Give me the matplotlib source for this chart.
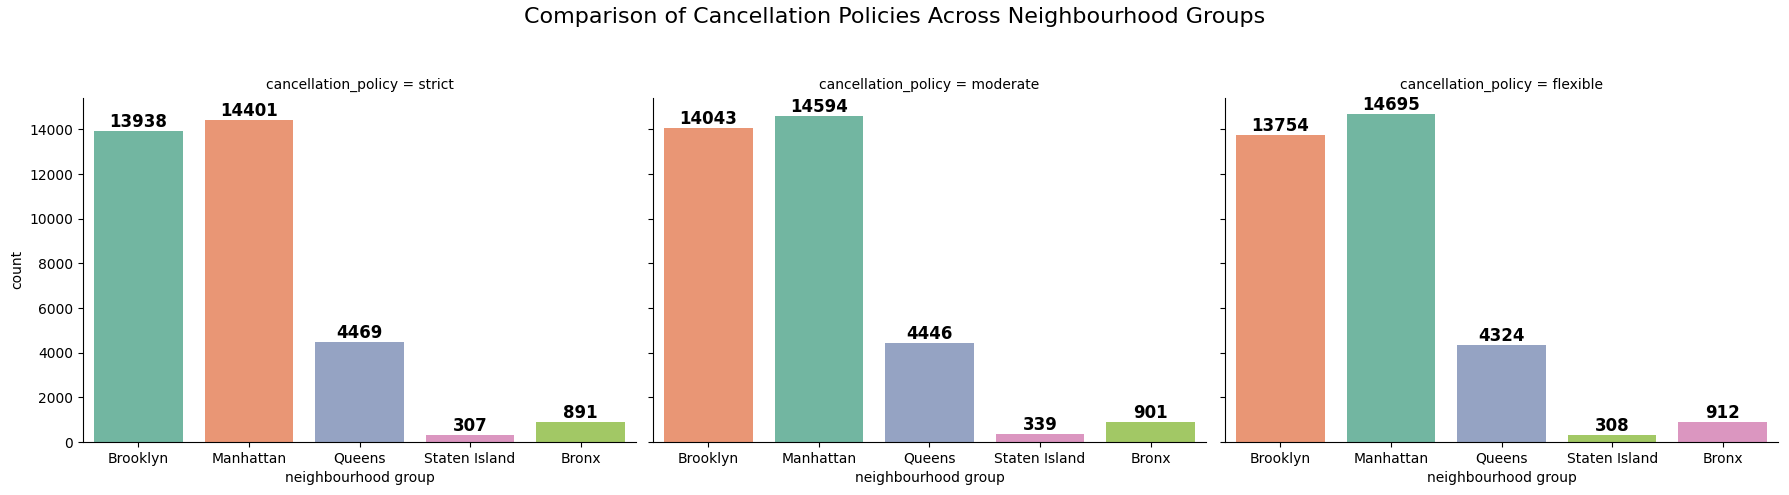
import matplotlib
matplotlib.use("Agg")
import matplotlib.pyplot as plt
import seaborn as sns

policies = ["strict", "moderate", "flexible"]
groups = ["Brooklyn", "Manhattan", "Queens", "Staten Island", "Bronx"]
counts_strict = [13938, 14401, 4469, 307, 891]
counts_moderate = [14043, 14594, 4446, 339, 901]
counts_flexible = [13754, 14695, 4324, 308, 912]
all_counts = [counts_strict, counts_moderate, counts_flexible]

set2 = sns.color_palette("Set2")
# colour index per bar in each facet (order of appearance in the source)
color_idx = [
    [0, 1, 2, 3, 4],
    [1, 0, 2, 3, 4],
    [1, 0, 2, 4, 3],
]

fig = plt.figure(figsize=(17.9, 4.95), dpi=100)
lefts = [0.0464, 0.3648, 0.6844]
width = 0.3089
bottom, top = 0.107, 0.803
axes = []
for i, (pol, counts) in enumerate(zip(policies, all_counts)):
    ax = fig.add_axes([lefts[i], bottom, width, top - bottom],
                      sharey=axes[0] if axes else None)
    axes.append(ax)
    cols = [sns.desaturate(set2[k], 0.75) for k in color_idx[i]]
    bars = ax.bar(range(len(groups)), counts, width=0.8, color=cols)
    ax.bar_label(bars, labels=[str(c) for c in counts], fontsize=12,
                 fontweight="bold", padding=0)
    ax.set_xticks(range(len(groups)))
    ax.set_xticklabels(groups, fontsize=10)
    ax.set_xlim(-0.5, len(groups) - 0.5)
    ax.set_xlabel("neighbourhood group", fontsize=10)
    ax.set_title(f"cancellation_policy = {pol}", fontsize=10)
    ax.spines["top"].set_visible(False)
    ax.spines["right"].set_visible(False)
    if i == 0:
        ax.set_ylabel("count", fontsize=10)
    else:
        ax.tick_params(labelleft=False)

axes[0].set_ylim(0, max(max(c) for c in all_counts) * 1.05)
fig.suptitle("Comparison of Cancellation Policies Across Neighbourhood Groups",
             fontsize=16, y=0.985)
fig.savefig("out.png", dpi=100)
